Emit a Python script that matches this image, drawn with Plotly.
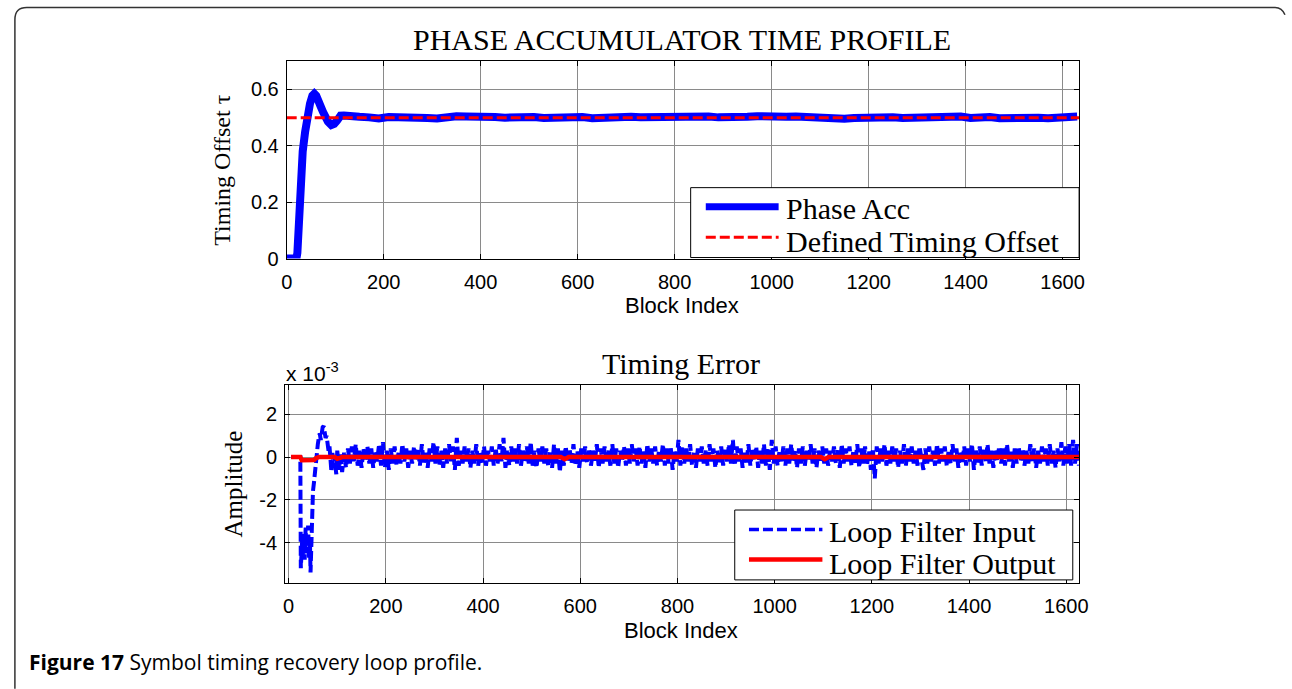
import plotly.graph_objects as go

W, H = 1292, 689

def px(x):
    return x / W

def py(y):
    return 1 - y / H

# ---------------- DATA ----------------
# Top panel: phase accumulator (timing offset tau)
phase_tr_x = [0, 20, 22, 25, 28, 33, 38, 42, 48, 53, 57, 61, 65, 70, 75, 80, 85, 92, 98, 104, 111, 118]
phase_tr_y = [0, 0, 0.02, 0.15, 0.27, 0.38, 0.45, 0.50, 0.55, 0.578, 0.585, 0.578, 0.566, 0.54,
              0.52, 0.50, 0.486, 0.474, 0.478, 0.49, 0.507, 0.508]
phase_settle_start = 130
phase_settle_step = 20
phase_settle = [
    0.504, 0.503, 0.501, 0.497, 0.502, 0.503, 0.500, 0.502, 0.499, 0.497,
    0.502, 0.505, 0.504, 0.501, 0.503, 0.502, 0.500, 0.503, 0.504, 0.502,
    0.499, 0.501, 0.500, 0.503, 0.502, 0.498, 0.501, 0.502, 0.500, 0.503,
    0.501, 0.502, 0.499, 0.501, 0.503, 0.500, 0.502, 0.504, 0.501, 0.500,
    0.502, 0.503, 0.505, 0.502, 0.501, 0.503, 0.504, 0.501, 0.502, 0.500,
    0.498, 0.496, 0.499, 0.501, 0.498, 0.500, 0.501, 0.499, 0.500, 0.502,
    0.501, 0.503, 0.506, 0.504, 0.499, 0.503, 0.502, 0.498, 0.500, 0.499,
    0.501, 0.500, 0.498, 0.501, 0.503, 0.504,
]
defined_x = [0, 1634]
defined_y = [0.5, 0.5]

# Bottom panel: timing error (units of 1e-3)
lfi_tr_x = [5, 24, 25, 26, 27, 28, 29, 30, 31, 32, 33, 34, 35, 36, 37, 38, 39, 40, 41, 42, 43, 44,
            45, 46, 47, 48, 50, 52, 54, 56, 58, 60, 62, 64, 66, 68, 70, 72, 74, 76, 78, 80, 82, 84,
            86, 88, 90, 92, 94, 96, 98, 100, 102, 104, 106]
lfi_tr_y = [0, 0, -5.2, -4.0, -4.3, -3.8, -4.6, -4.1, -3.6, -4.4, -4.8, -3.9, -3.3, -4.2, -4.5,
            -3.7, -4.0, -3.2, -4.3, -4.7, -3.9, -4.2, -5.4, -4.4, -4.0, -2.0, -1.6, -1.2, -0.6,
            -0.2, 0.3, 0.6, 0.9, 1.1, 0.8, 1.2, 1.4, 1.45, 1.2, 0.9, 1.0, 0.6, 0.3, 0.5, -0.1,
            -0.7, 0.2, -0.5, 0.1, -0.6, -0.8, 0.3, -0.4, -0.6, 0.2]
# steady-state loop filter input, units of 1e-4, one value every 4 blocks from block 110
lfi_noise_start = 110
lfi_noise_step = 4
lfi_noise = [
    -7, 2, -5, 4, -3, 5, -2, 6, -4, 3, -5, 4, -2, 5, -3, 4, -5, 3, -2, 6, -4, 7, -5, 3, -6,
    4, -3, 5, -4, 2, -3, 6, -2, 4, -5, 3, -3, 5, -2, 4, -4, 6, -3, 3, -5, 4, -2, 7, -3, 5,
    -4, 3, -5, 4, -3, 6, -2, 5, -6, 9, -4, 3, -3, 5, -2, 4, -5, 3, -3, 6, -4, 2, -3, 5, -4,
    3, -2, 5, -4, 4, -3, 6, -2, 9, -5, 3, -4, 5, -2, 4, -3, 6, -4, 3, -2, 5, -3, 7, -4, 3,
    -5, 4, -2, 5, -3, 4, -4, 3, -5, 6, -3, 4, -7, 3, -4, 5, -2, 4, -3, 6, -4, 3, -5, 4, -2,
    5, -3, 4, -4, 3, -2, 6, -5, 4, -3, 5, -2, 3, -4, 6, -3, 4, -5, 3, -2, 5, -4, 4, -3, 6,
    -2, 4, -4, 5, -3, 3, -5, 6, -2, 4, -3, 5, -4, 3, -2, 6, -4, 4, -3, 5, -6, 3, -3, 8, -4,
    5, -3, 4, -2, 6, -4, 3, -5, 4, -2, 5, -3, 3, -4, 6, -2, 4, -5, 3, -3, 5, -4, 4, -2, 6,
    -3, 8, -4, 5, -2, 4, -5, 3, -3, 6, -4, 4, -2, 5, -5, 3, -3, 6, -4, 4, -6, 8, -3, 5, -4,
    3, -2, 5, -4, 4, -3, 6, -2, 3, -5, 4, -3, 5, -4, 3, -2, 6, -3, 4, -5, 3, -2, 5, -3, 4,
    -4, 3, -2, 5, -3, 4, -5, 6, -3, 4, -2, 5, -4, 3, -3, 6, -5, 4, -3, 5, -4, 3, -6, 4, -10,
    5, -3, 4, -2, 6, -4, 3, -3, 5, -2, 4, -5, 3, -3, 6, -4, 4, -2, 5, -3, 3, -4, 5, -2, -6,
    4, -3, 5, -2, 3, -4, 6, -3, 4, -2, 5, -4, 3, -3, 6, -2, 4, -5, 3, -3, 5, -4, 4, -2, 6,
    -6, 3, -3, 5, -4, 4, -2, 6, -3, 3, -5, 4, -2, 5, -3, 4, -4, 6, -2, 3, -5, 4, -3, 5, -2,
    4, -4, 3, -3, 6, -2, 4, -5, 3, -3, 5, -2, 4, -4, 6, -3, 3, -5, 4, -2, 7, -4, 5, -3, 6,
    -4, 8, -3, 6, -4,
]
lfo_x = [5, 24, 27, 40, 52, 56, 62, 95, 100, 110, 560, 568, 576, 1095, 1103, 1111, 1626]
lfo_y = [0, 0, -0.15, -0.17, -0.14, -0.05, 0.0, 0.0, -0.08, 0.0, 0.0, -0.1, 0.0, 0.0, -0.1, 0.0, 0.0]

x_ticks = [0, 200, 400, 600, 800, 1000, 1200, 1400, 1600]
top_y_ticks = [0, 0.2, 0.4, 0.6]
top_y_labels = ["0", "0.2", "0.4", "0.6"]
bot_y_ticks = [-4, -2, 0, 2]
bot_y_labels = ["-4", "-2", "0", "2"]

# ---------------- assemble series ----------------
phase_x = phase_tr_x + [phase_settle_start + phase_settle_step * i for i in range(len(phase_settle))]
phase_y = phase_tr_y + phase_settle
lfi_x = lfi_tr_x + [lfi_noise_start + lfi_noise_step * i for i in range(len(lfi_noise))]
lfi_y = lfi_tr_y + [v / 10 for v in lfi_noise]

SERIF = "Liberation Serif, Times New Roman, serif"
SANS = "Liberation Sans, Arial, sans-serif"
BLUE = "#0000FF"
RED = "#FF0000"
DASH = "10px,4px"

fig = go.Figure()
fig.add_trace(go.Scatter(x=phase_x, y=phase_y, mode="lines", name="Phase Acc",
                         line=dict(color=BLUE, width=8), xaxis="x", yaxis="y", showlegend=False))
fig.add_trace(go.Scatter(x=defined_x, y=defined_y, mode="lines", name="Defined Timing Offset",
                         line=dict(color=RED, width=3, dash=DASH), xaxis="x", yaxis="y", showlegend=False))
fig.add_trace(go.Scatter(x=lfi_x, y=lfi_y, mode="lines", name="Loop Filter Input",
                         line=dict(color=BLUE, width=4, dash=DASH), xaxis="x2", yaxis="y2", showlegend=False))
fig.add_trace(go.Scatter(x=lfo_x, y=lfo_y, mode="lines", name="Loop Filter Output",
                         line=dict(color=RED, width=4.5), xaxis="x2", yaxis="y2", showlegend=False))

axis_common = dict(showline=True, linecolor="black", linewidth=1, mirror="ticks",
                   ticks="inside", ticklen=5, tickcolor="black", showgrid=True,
                   gridcolor="#8a8a8a", gridwidth=1, zeroline=False,
                   tickfont=dict(family=SANS, size=20, color="black"))

fig.update_layout(
    width=W, height=H, margin=dict(l=0, r=0, t=0, b=0),
    paper_bgcolor="white", plot_bgcolor="white", showlegend=False,
    xaxis=dict(domain=[px(284), px(1085.7)], anchor="y", range=[0, 1634],
               tickvals=x_ticks, ticklabelstandoff=5, **axis_common),
    yaxis=dict(domain=[py(262.7), py(62.3)], anchor="x", range=[0, 0.7],
               tickvals=top_y_ticks, ticktext=top_y_labels, ticklabelstandoff=3, **axis_common),
    xaxis2=dict(domain=[px(282.3), px(1085.7)], anchor="y2", range=[-7.5, 1626.4],
                tickvals=x_ticks, ticklabelstandoff=5, **axis_common),
    yaxis2=dict(domain=[py(592.7), py(391.7)], anchor="x2", range=[-5.9, 3.35],
                tickvals=bot_y_ticks, ticktext=bot_y_labels, ticklabelstandoff=3, **axis_common),
)

shapes = []
annotations = []

def text(s, x, y, size, family, xanchor="center", yanchor="middle", angle=0):
    annotations.append(dict(text=s, x=px(x), y=py(y), xref="paper", yref="paper",
                            xanchor=xanchor, yanchor=yanchor, showarrow=False, textangle=angle,
                            font=dict(family=family, size=size, color="black")))

# titles and labels
text("PHASE ACCUMULATOR TIME PROFILE", 684, 40, 30, SERIF)
text("Block Index", 684, 310, 22, SANS)
text("Timing Offset \u03c4", 219, 173, 24, SERIF, angle=-90)
text("Timing Error", 682.5, 369, 30, SERIF)
text("x 10<sup>-3</sup>", 281, 378, 21, SANS, xanchor="left")
text("Amplitude", 230, 492, 25, SERIF, angle=-90)
text("Block Index", 683, 641, 22, SANS)
text("<b>Figure 17</b> Symbol timing recovery loop profile.", 21, 673, 21,
     "Open Sans, Noto Sans, sans-serif", xanchor="left")

# legends (drawn boxes)
def legend_box(x0, y0, x1, y1):
    shapes.append(dict(type="rect", xref="paper", yref="paper", x0=px(x0), x1=px(x1),
                       y0=py(y1), y1=py(y0), line=dict(color="black", width=1),
                       fillcolor="white", layer="above"))

def legend_line(x0, x1, y, color, width, dash="solid"):
    shapes.append(dict(type="line", xref="paper", yref="paper", x0=px(x0), x1=px(x1),
                       y0=py(y), y1=py(y), line=dict(color=color, width=width, dash=dash),
                       layer="above"))

legend_box(692.7, 190.7, 1085.7, 261.7)
legend_line(708, 781.7, 210, BLUE, 7)
legend_line(708, 781.7, 241, RED, 3, DASH)
text("Phase Acc", 787, 212, 30, SERIF, xanchor="left")
text("Defined Timing Offset", 787, 245, 30, SERIF, xanchor="left")

legend_box(737.3, 518.3, 1079.3, 589.3)
legend_line(751.7, 826, 538, BLUE, 3.5, DASH)
legend_line(751.7, 826, 568.5, RED, 4.5)
text("Loop Filter Input", 831, 540, 30, SERIF, xanchor="left")
text("Loop Filter Output", 831, 573, 30, SERIF, xanchor="left")

# figure frame (rounded top corners)
def P(x, y):
    return f"{px(x):.5f},{py(y):.5f}"

frame_path = ("M " + P(9, 700) + " L " + P(9, 20) + " Q " + P(9, 7.5) + " " + P(21, 7.5) +
              " L " + P(1284, 7.5) + " Q " + P(1291, 7.5) + " " + P(1294, 15))
shapes.append(dict(type="path", xref="paper", yref="paper", path=frame_path,
                   line=dict(color="#333333", width=1.5), layer="above"))

fig.update_layout(shapes=shapes, annotations=annotations)
fig.write_html("out.html")
